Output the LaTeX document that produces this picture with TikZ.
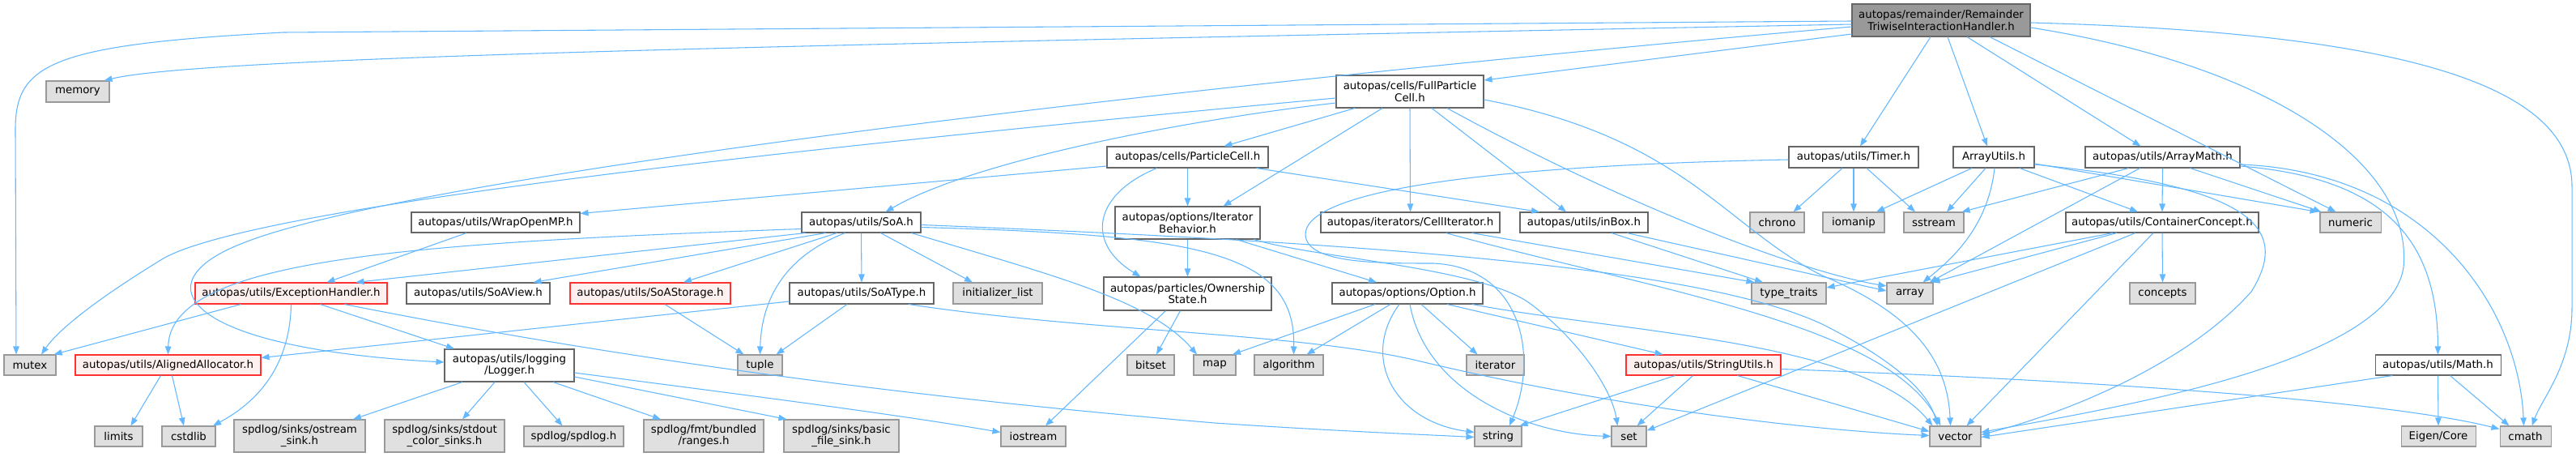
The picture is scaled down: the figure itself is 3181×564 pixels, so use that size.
\documentclass[tikz,border=0pt]{standalone}
\usepackage{fontspec}
\setmainfont{DejaVu Sans}
\usetikzlibrary{arrows.meta}
\definecolor{edgec}{HTML}{63B8FF}
\definecolor{bdark}{HTML}{666666}
\definecolor{blight}{HTML}{999999}
\definecolor{gfill}{HTML}{E0E0E0}
\definecolor{rfill}{HTML}{FFF0F0}
\definecolor{rborder}{HTML}{FF3030}
\definecolor{rootfill}{HTML}{999999}
\newcommand{\mknode}[7]{\node[#2, minimum width=#5*0.75pt, minimum height=#6*0.75pt] (#1) at (#3,#4) {#7};}
\tikzset{
  basebox/.style={draw, rectangle, inner sep=0pt, align=center, line width=0.8pt, text=black, font=\fontsize{10}{10.8}\selectfont},
  wbox/.style={basebox, draw=bdark, fill=white},
  gbox/.style={basebox, draw=blight, fill=gfill},
  rbox/.style={basebox, draw=rborder, fill=rfill},
  rootbox/.style={basebox, draw=bdark, fill=rootfill},
  e/.style={draw=edgec, line width=0.8pt, -{Triangle[length=7.5pt,width=5.6pt,fill=edgec]}},
}
\begin{document}
\begin{tikzpicture}[x=0.75pt,y=-0.75pt]
\fill[white] (0,0) rectangle (3181,564);
\useasboundingbox (0,0) rectangle (3181,564);
% nodes
\mknode{root}{rootbox}{2397}{25}{220}{40}{autopas/remainder/Remainder\\TriwiseInteractionHandler.h}
\mknode{memory}{gbox}{96}{113}{78}{26}{memory}
\mknode{fpc}{wbox}{1741}{113}{182}{40}{autopas/cells/FullParticle\\Cell.h}
\mknode{pcell}{wbox}{1466.5}{194}{199}{26}{autopas/cells/ParticleCell.h}
\mknode{timer}{wbox}{2289}{194}{160}{26}{autopas/utils/Timer.h}
\mknode{arrutils}{wbox}{2462}{194}{100}{26}{ArrayUtils.h}
\mknode{arrmath}{wbox}{2670.5}{194}{191}{26}{autopas/utils/ArrayMath.h}
\mknode{wrap}{wbox}{612}{274.5}{208}{25}{autopas/utils/WrapOpenMP.h}
\mknode{soa}{wbox}{1063.5}{274.5}{147}{25}{autopas/utils/SoA.h}
\mknode{itb}{wbox}{1466.5}{275}{179}{40}{autopas/options/Iterator\\Behavior.h}
\mknode{celliter}{wbox}{1741.5}{274.5}{221}{25}{autopas/iterators/CellIterator.h}
\mknode{inbox}{wbox}{1956}{274.5}{158}{25}{autopas/utils/inBox.h}
\mknode{chrono}{gbox}{2194.5}{274.5}{67}{25}{chrono}
\mknode{iomanip}{gbox}{2289}{274.5}{76}{25}{iomanip}
\mknode{sstream}{gbox}{2388}{274.5}{74}{25}{sstream}
\mknode{cconcept}{wbox}{2670}{274.5}{238}{25}{autopas/utils/ContainerConcept.h}
\mknode{numeric}{gbox}{2902.5}{274.5}{75}{25}{numeric}
\mknode{exch}{rbox}{359.5}{362}{237}{26}{autopas/utils/ExceptionHandler.h}
\mknode{soaview}{wbox}{590.5}{362}{177}{26}{autopas/utils/SoAView.h}
\mknode{soastor}{rbox}{803}{362}{198}{26}{autopas/utils/SoAStorage.h}
\mknode{soatype}{wbox}{1064}{362}{178}{26}{autopas/utils/SoAType.h}
\mknode{initl}{gbox}{1232}{362}{110}{26}{initializer\_list}
\mknode{own}{wbox}{1466.5}{362.5}{207}{41}{autopas/particles/Ownership\\State.h}
\mknode{option}{wbox}{1738}{362}{186}{26}{autopas/options/Option.h}
\mknode{typet}{gbox}{2209}{362}{92}{26}{type\_traits}
\mknode{array}{gbox}{2358.5}{362}{57}{26}{array}
\mknode{concepts}{gbox}{2670.5}{362}{81}{26}{concepts}
\mknode{mutex}{gbox}{37}{450.5}{64}{25}{mutex}
\mknode{alalloc}{rbox}{207.5}{450.5}{229}{25}{autopas/utils/AlignedAllocator.h}
\mknode{logger}{wbox}{629}{451}{160}{40}{autopas/utils/logging\\/Logger.h}
\mknode{tuple}{gbox}{938.5}{450.5}{55}{25}{tuple}
\mknode{bitset}{gbox}{1421}{450.5}{58}{25}{bitset}
\mknode{map}{gbox}{1500}{450.5}{52}{25}{map}
\mknode{algorithm}{gbox}{1591.5}{450.5}{85}{25}{algorithm}
\mknode{iterator}{gbox}{1846.5}{450.5}{71}{25}{iterator}
\mknode{strutils}{rbox}{2103.5}{450.5}{191}{25}{autopas/utils/StringUtils.h}
\mknode{math}{wbox}{3010.5}{450.5}{155}{25}{autopas/utils/Math.h}
\mknode{limits}{gbox}{146.5}{538.5}{59}{25}{limits}
\mknode{cstdlib}{gbox}{233}{538.5}{66}{25}{cstdlib}
\mknode{ostream}{gbox}{370}{538}{162}{40}{spdlog/sinks/ostream\\\_sink.h}
\mknode{stdoutc}{gbox}{549}{538}{148}{40}{spdlog/sinks/stdout\\\_color\_sinks.h}
\mknode{spdlogh}{gbox}{708.5}{538.5}{123}{25}{spdlog/spdlog.h}
\mknode{ranges}{gbox}{869}{538}{148}{40}{spdlog/fmt/bundled\\/ranges.h}
\mknode{basicfile}{gbox}{1039}{538}{142}{40}{spdlog/sinks/basic\\\_file\_sink.h}
\mknode{iostream}{gbox}{1276}{538.5}{80}{25}{iostream}
\mknode{string}{gbox}{1850}{538.5}{58}{25}{string}
\mknode{set}{gbox}{2011.5}{538.5}{43}{25}{set}
\mknode{vector}{gbox}{2414.5}{538.5}{63}{25}{vector}
\mknode{eigen}{gbox}{3011}{538.5}{92}{25}{Eigen/Core}
\mknode{cmath}{gbox}{3118.5}{538.5}{63}{25}{cmath}
% ---------- edges: root
\draw[e] ([shift={(0,5)}]root.west) .. controls (1000,55) and (250,70) .. ([shift={(-7,0)}]memory.north east);
\draw[e] ([shift={(0,1)}]root.west) -- (350,40) .. controls (60,55) and (19,80) .. (19,160) -- ([shift={(-17,0)}]mutex.north);
\draw[e] ([shift={(0,8)}]root.west) .. controls (1400,110) and (500,220) .. (300,300) .. controls (170,350) and (230,430) .. ([shift={(0,-4)}]logger.west);
\draw[e] ([shift={(0,17)}]root.west) -- ([shift={(0,-14)}]fpc.east);
\draw[e] ([shift={(-13,0)}]root.south) -- ([shift={(8,0)}]timer.north);
\draw[e] ([shift={(8,0)}]root.south) -- ([shift={(-8,0)}]arrutils.north);
\draw[e] ([shift={(32,0)}]root.south) -- ([shift={(-27,0)}]arrmath.north);
\draw[e] ([shift={(60,0)}]root.south) -- ([shift={(-18,0)}]numeric.north);
\draw[e] ([shift={(0,9)}]root.east) .. controls (2800,80) and (2980,200) .. (2968,330) .. controls (2950,450) and (2600,505) .. ([shift={(0,-5)}]vector.east);
\draw[e] ([shift={(0,3)}]root.east) .. controls (2950,40) and (3176,100) .. (3176,230) -- (3176,380) .. controls (3176,450) and (3140,490) .. ([shift={(8,0)}]cmath.north);
% ---------- FullParticleCell
\draw[e] ([shift={(0,8)}]fpc.west) .. controls (900,190) and (300,260) .. (200,320) .. controls (110,375) and (70,410) .. ([shift={(14,0)}]mutex.north);
\draw[e] ([shift={(0,14)}]fpc.west) .. controls (1450,150) and (1200,200) .. ([shift={(30,0)}]soa.north);
\draw[e] ([shift={(-68,0)}]fpc.south) -- ([shift={(45,0)}]pcell.north);
\draw[e] ([shift={(-34,0)}]fpc.south) -- ([shift={(44,0)}]itb.north);
\draw[e] (fpc.south) -- (celliter.north);
\draw[e] ([shift={(27,0)}]fpc.south) -- ([shift={(-22,0)}]inbox.north);
\draw[e] ([shift={(46,0)}]fpc.south) .. controls (2000,250) and (2220,335) .. ([shift={(0,-9)}]array.west);
\draw[e] ([shift={(0,10)}]fpc.east) .. controls (2080,170) and (2130,280) .. (2250,340) .. controls (2370,390) and (2405,450) .. ([shift={(-6,0)}]vector.north);
% ---------- ParticleCell
\draw[e] ([shift={(0,11)}]pcell.west) -- ([shift={(0,-11)}]wrap.east);
\draw[e] (pcell.south) -- (itb.north);
\draw[e] ([shift={(-38,0)}]pcell.south) .. controls (1350,240) and (1340,300) .. ([shift={(-58,0)}]own.north);
\draw[e] ([shift={(85,0)}]pcell.south) -- ([shift={(-55,0)}]inbox.north);
% ---------- Timer
\draw[e] ([shift={(-14,0)}]timer.south) -- ([shift={(20,0)}]chrono.north);
\draw[e] (timer.south) -- (iomanip.north);
\draw[e] ([shift={(16,0)}]timer.south) -- ([shift={(-23,0)}]sstream.north);
\draw[e] ([shift={(0,3)}]timer.west) .. controls (1800,205) and (1610,240) .. (1612,290) .. controls (1614,325) and (1700,325) .. (1770,325) .. controls (1880,330) and (1900,440) .. ([shift={(14,0)}]string.north);
% ---------- ArrayUtils
\draw[e] ([shift={(-27,0)}]arrutils.south) -- ([shift={(28,0)}]iomanip.north);
\draw[e] ([shift={(-10,0)}]arrutils.south) -- ([shift={(16,0)}]sstream.north);
\draw[e] ([shift={(32,0)}]arrutils.south) -- ([shift={(-30,0)}]cconcept.north);
\draw[e] ([shift={(0,8)}]arrutils.east) -- ([shift={(-40,0)}]numeric.north);
\draw[e] ([shift={(1,0)}]arrutils.south) .. controls (2455,280) and (2410,320) .. ([shift={(16,0)}]array.north);
\draw[e] ([shift={(0,9)}]arrutils.east) .. controls (2780,230) and (2830,280) .. (2780,360) .. controls (2700,450) and (2550,510) .. ([shift={(0,-2)}]vector.east);
% ---------- ArrayMath
\draw[e] ([shift={(-42,0)}]arrmath.south) -- ([shift={(-3,0)}]sstream.north east);
\draw[e] ([shift={(-28,0)}]arrmath.south) -- ([shift={(-5,0)}]array.north east);
\draw[e] (arrmath.south) -- (cconcept.north);
\draw[e] ([shift={(34,0)}]arrmath.south) -- ([shift={(-36,0)}]numeric.north);
\draw[e] ([shift={(0,11)}]arrmath.east) .. controls (2950,220) and (3010,300) .. (math.north);
\draw[e] ([shift={(0,9)}]arrmath.east) .. controls (3000,212) and (3110,380) .. ([shift={(-2,0)}]cmath.north);
% ---------- CellIterator, inBox
\draw[e] ([shift={(76,0)}]celliter.south) -- ([shift={(4,0)}]typet.north west);
\draw[e] ([shift={(44,0)}]celliter.south) .. controls (2050,360) and (2330,400) .. ([shift={(-18,0)}]vector.north);
\draw[e] ([shift={(34,0)}]inbox.south) -- ([shift={(-32,0)}]typet.north);
\draw[e] ([shift={(53,0)}]inbox.south) -- ([shift={(0,-3)}]array.west);
% ---------- ContainerConcept
\draw[e] (cconcept.south) -- (concepts.north);
\draw[e] ([shift={(-56,0)}]cconcept.south) -- ([shift={(-2,0)}]array.north east);
\draw[e] ([shift={(-61,0)}]cconcept.south) -- ([shift={(0,-7)}]typet.east);
\draw[e] ([shift={(-33,0)}]cconcept.south) -- ([shift={(0,-7)}]set.east);
\draw[e] ([shift={(-11,0)}]cconcept.south) -- ([shift={(14,0)}]vector.north);
% ---------- ExceptionHandler, WrapOpenMP
\draw[e] ([shift={(-62,0)}]exch.south) -- ([shift={(-3,0)}]mutex.north east);
\draw[e] (exch.south) .. controls (358,450) and (320,495) .. ([shift={(30,0)}]cstdlib.north);
\draw[e] ([shift={(36,0)}]exch.south) -- ([shift={(-68,0)}]logger.north);
\draw[e] ([shift={(66,0)}]exch.south) .. controls (650,420) and (1000,480) .. (1500,522) .. controls (1650,532) and (1750,536) .. ([shift={(0,1)}]string.west);
\draw[e] ([shift={(-36,0)}]wrap.south) -- ([shift={(44,0)}]exch.north);
% ---------- SoA
\draw[e] ([shift={(0,8)}]soa.west) .. controls (500,300) and (210,320) .. (alalloc.north);
\draw[e] ([shift={(5,0)}]soa.south west) -- ([shift={(80,0)}]exch.north);
\draw[e] ([shift={(-44,0)}]soa.south) -- ([shift={(68,0)}]soaview.north);
\draw[e] ([shift={(-30,0)}]soa.south) -- ([shift={(41,0)}]soastor.north);
\draw[e] ([shift={(-20,0)}]soa.south) .. controls (960,320) and (940,380) .. (tuple.north);
\draw[e] (soa.south) -- (soatype.north);
\draw[e] ([shift={(24,0)}]soa.south) -- ([shift={(-31,0)}]initl.north);
\draw[e] ([shift={(62,0)}]soa.south) .. controls (1300,340) and (1420,370) .. ([shift={(-22,0)}]map.north);
\draw[e] ([shift={(0,6)}]soa.east) .. controls (1480,290) and (1600,310) .. ([shift={(6,0)}]algorithm.north);
\draw[e] ([shift={(0,3)}]soa.east) .. controls (1700,300) and (2100,330) .. (2250,400) .. controls (2330,440) and (2380,480) .. ([shift={(-22,0)}]vector.north);
% ---------- SoAStorage, SoAType
\draw[e] ([shift={(18,0)}]soastor.south) -- ([shift={(-20,0)}]tuple.north);
\draw[e] ([shift={(-18,0)}]soatype.south) -- ([shift={(20,0)}]tuple.north);
\draw[e] ([shift={(0,10)}]soatype.west) -- ([shift={(0,-9)}]alalloc.east);
\draw[e] ([shift={(58,0)}]soatype.south) .. controls (1350,410) and (1600,410) .. (1750,445) .. controls (2000,505) and (2250,532) .. ([shift={(0,-1)}]vector.west);
% ---------- OwnershipState
\draw[e] ([shift={(-9,0)}]own.south) -- ([shift={(7,0)}]bitset.north);
\draw[e] ([shift={(-27,0)}]own.south) -- ([shift={(15,0)}]iostream.north);
% ---------- Option
\draw[e] ([shift={(-40,0)}]option.south) -- ([shift={(22,0)}]map.north);
\draw[e] ([shift={(-21,0)}]option.south) -- ([shift={(22,0)}]algorithm.north);
\draw[e] ([shift={(-10,0)}]option.south) .. controls (1680,440) and (1720,520) .. ([shift={(0,-5)}]string.west);
\draw[e] ([shift={(3,0)}]option.south) .. controls (1760,480) and (1880,535) .. (set.west);
\draw[e] ([shift={(17,0)}]option.south) -- ([shift={(-22,0)}]iterator.north);
\draw[e] ([shift={(49,0)}]option.south) -- ([shift={(-50,0)}]strutils.north);
\draw[e] ([shift={(80,0)}]option.south) .. controls (2000,410) and (2300,420) .. ([shift={(4,0)}]vector.north west);
% ---------- IteratorBehavior
\draw[e] (itb.south) -- (own.north);
\draw[e] ([shift={(60,0)}]itb.south) -- ([shift={(-38,0)}]option.north);
\draw[e] ([shift={(-8,0)}]itb.south east) .. controls (1620,318) and (1830,330) .. (1890,375) .. controls (1950,420) and (1990,480) .. ([shift={(-14,0)}]set.north);
% ---------- StringUtils
\draw[e] ([shift={(-35,0)}]strutils.south) -- ([shift={(-3,0)}]string.north east);
\draw[e] ([shift={(-13,0)}]strutils.south) -- ([shift={(10,0)}]set.north);
\draw[e] ([shift={(42,0)}]strutils.south) -- ([shift={(0,-6)}]vector.west);
\draw[e] ([shift={(0,5)}]strutils.east) .. controls (2600,470) and (2950,495) .. ([shift={(0,-9)}]cmath.west);
% ---------- Math
\draw[e] ([shift={(22,0)}]math.south west) -- ([shift={(0,1)}]vector.east);
\draw[e] (math.south) -- (eigen.north);
\draw[e] ([shift={(15,0)}]math.south) -- ([shift={(-20,0)}]cmath.north);
% ---------- AlignedAllocator
\draw[e] ([shift={(-9,0)}]alalloc.south) -- ([shift={(15,0)}]limits.north);
\draw[e] ([shift={(5,0)}]alalloc.south) -- ([shift={(-6,0)}]cstdlib.north);
% ---------- Logger
\draw[e] ([shift={(-58,0)}]logger.south) -- ([shift={(66,0)}]ostream.north);
\draw[e] ([shift={(-18,0)}]logger.south) -- ([shift={(22,0)}]stdoutc.north);
\draw[e] ([shift={(18,0)}]logger.south) -- ([shift={(-14,0)}]spdlogh.north);
\draw[e] ([shift={(54,0)}]logger.south) -- ([shift={(-53,0)}]ranges.north);
\draw[e] ([shift={(0,14)}]logger.east) -- ([shift={(4,0)}]basicfile.north west);
\draw[e] ([shift={(0,9)}]logger.east) .. controls (900,485) and (1100,510) .. ([shift={(0,-5)}]iostream.west);
\end{tikzpicture}
\end{document}
